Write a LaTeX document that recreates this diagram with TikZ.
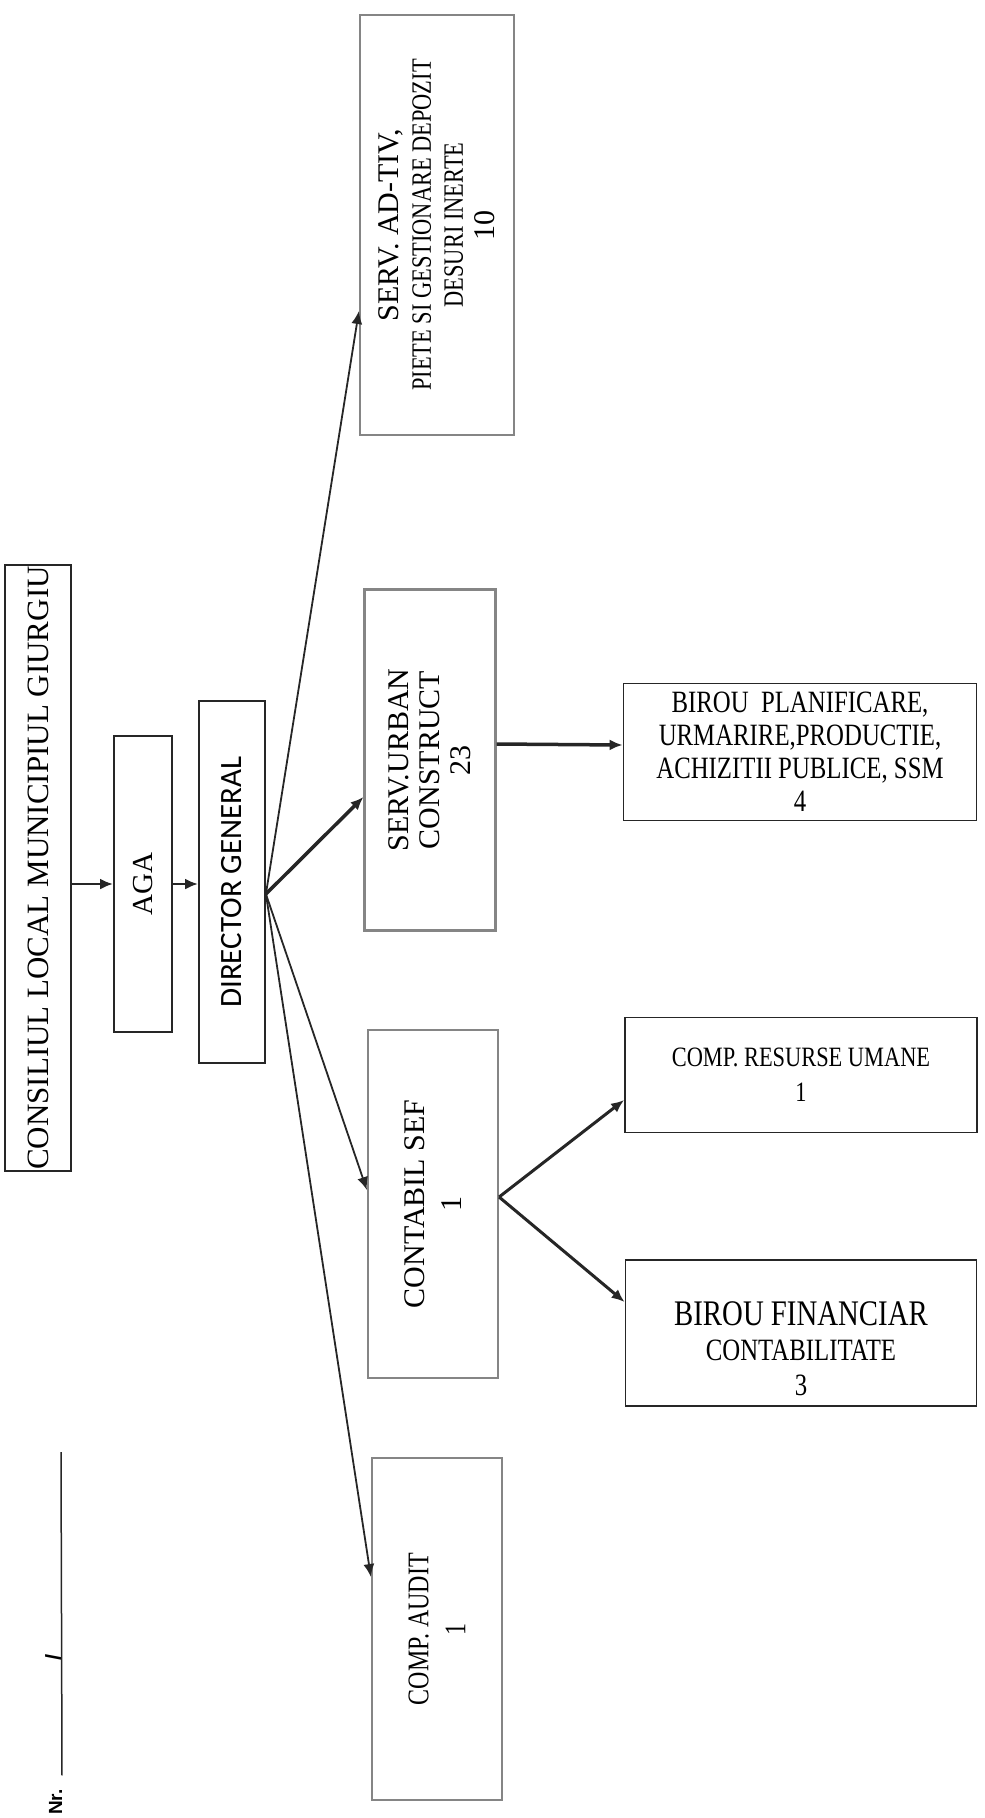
\documentclass[tikz,border=0pt]{standalone}
\usepackage{fontspec}
\setmainfont{Liberation Serif}
\setsansfont{Liberation Sans}
\newfontfamily\narrowfont[FakeStretch=0.8]{Liberation Serif}
\newfontfamily\directorfont{Carlito}
\usepackage{tikz}
\usetikzlibrary{arrows.meta}

\begin{document}
\begin{tikzpicture}[x=1pt,y=1pt,
    box/.style={draw=black!85,line width=1.8pt,inner sep=0pt},
    pale/.style={draw=black!48,line width=2.2pt,inner sep=0pt},
    vtext/.style={rotate=90,align=center,inner sep=0pt},
    link/.style={-{Latex[length=13pt,width=11pt]},line width=1.8pt,black!85}]

\useasboundingbox (0,0) rectangle (985,-1818);

\node [box,minimum width=66,minimum height=606,label={[vtext,font=\fontsize{31}{31}\selectfont]center:CONSILIUL LOCAL MUNICIPIUL GIURGIU}] (cl) at (38,-868) {};
\node [box,minimum width=58,minimum height=296,label={[vtext,font=\fontsize{29}{29}\selectfont]center:AGA}] (aga) at (143,-884) {};
\node [box,minimum width=66,minimum height=362,label={[vtext,font=\directorfont\fontsize{31}{31}\selectfont]center:DIRECTOR GENERAL}] (dg) at (232,-882) {};

\node [pale,minimum width=154,minimum height=420,label={[vtext,font=\fontsize{30}{32}\selectfont]center:{SERV. AD-TIV,\\{\narrowfont\fontsize{28}{32}\selectfont PIETE SI GESTIONARE DEPOZIT}\\{\narrowfont\fontsize{28}{32}\selectfont DESURI INERTE}\\10}}] (adtiv) at (437,-225) {};
\node [pale,minimum width=131,minimum height=341,label={[vtext,font=\fontsize{30}{31}\selectfont]center:SERV.URBAN\\CONSTRUCT\\23}] (urban) at (430,-760) {};
\node [pale,minimum width=130,minimum height=348,label={[vtext,font=\fontsize{30}{37}\selectfont]center:CONTABIL SEF\\1}] (cont) at (433,-1204) {};
\node [pale,minimum width=130,minimum height=342,label={[vtext,font=\narrowfont\fontsize{30}{37}\selectfont]center:COMP. AUDIT\\1}] (audit) at (437,-1629) {};

\node [box,minimum width=353,minimum height=137,align=center,font=\narrowfont\fontsize{31}{33}\selectfont] (plan) at (800,-752) {BIROU\ \ PLANIFICARE,\\URMARIRE,PRODUCTIE,\\ACHIZITII PUBLICE, SSM\\4};
\node [box,minimum width=352,minimum height=115,align=center,font=\narrowfont\fontsize{28}{35}\selectfont] (ru) at (801,-1075) {COMP. RESURSE UMANE\\1};
\node [box,minimum width=351,minimum height=146,align=center,font=\narrowfont\fontsize{31}{35}\selectfont] (fin) at (801,-1333) {\rule{0pt}{56pt}{\fontsize{36}{36}\selectfont BIROU FINANCIAR}\\CONTABILITATE\\3};

\coordinate (hub) at ([yshift=-12pt]dg.east);
\coordinate (split) at ([yshift=7pt]cont.east);

\draw [link,line width=2.5pt] (cl.east |- aga.west) -- (aga.west);
\draw [link,line width=2.5pt] (aga.east) -- (aga.east -| dg.west);
\draw [link] (hub) -- ([yshift=-86pt]adtiv.west);
\draw [link,line width=3.5pt] (hub) -- ([yshift=-37pt]urban.west);
\draw [link] (hub) -- ([yshift=14pt]cont.west);
\draw [link] (hub) -- ([yshift=52pt]audit.west);
\draw [link,line width=3.5pt] ([yshift=16pt]urban.east) -- ([yshift=7pt]plan.west);
\draw [link,line width=3pt] (split) -- ([yshift=-25pt]ru.west);
\draw [link,line width=3pt] (split) -- ([yshift=31pt]fin.west);

\node [rotate=90,anchor=base west,inner sep=0pt,font=\sffamily\bfseries\fontsize{19}{19}\selectfont] (nr) at (62,-1815) {Nr.};
\node [rotate=90,anchor=base,inner sep=0pt,font=\sffamily\bfseries\fontsize{22}{22}\selectfont] (slash) at (61,-1657) {/};
\coordinate (nrend) at (61,-1452);
\draw [line width=1.5pt,black!85] ([yshift=14pt]nr.base east) -- (nrend);

\end{tikzpicture}
\end{document}
